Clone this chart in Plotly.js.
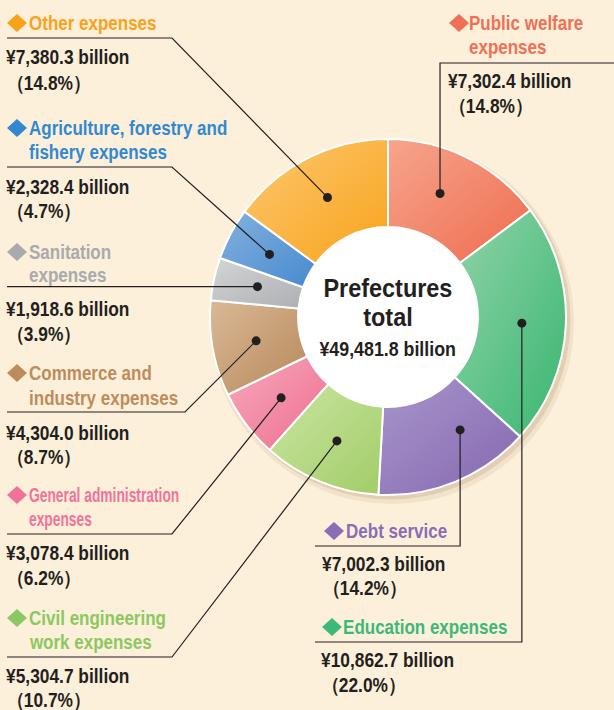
<!DOCTYPE html>
<html>
<head>
<meta charset="utf-8">
<script src="https://cdn.plot.ly/plotly-3.0.1.min.js"></script>
<style>
  html, body { margin: 0; padding: 0; background: #FDF0DB; }
  #chart { width: 614px; height: 710px; }
</style>
</head>
<body>
<div id="chart"></div>
<script>
// ---------------- data ----------------
const categories = [
  "Public welfare expenses", "Education expenses", "Debt service",
  "Civil engineering work expenses", "General administration expenses",
  "Commerce and industry expenses", "Sanitation expenses",
  "Agriculture, forestry and fishery expenses", "Other expenses"
];
const values = [7302.4, 10862.7, 7002.3, 5304.7, 3078.4, 4304.0, 1918.6, 2328.4, 7380.3];
const percents = [14.8, 22.0, 14.2, 10.7, 6.2, 8.7, 3.9, 4.7, 14.8];
const labelLines = [
  ["Public welfare", "expenses"],
  ["Education expenses"],
  ["Debt service"],
  ["Civil engineering", "work expenses"],
  ["General administration", "expenses"],
  ["Commerce and", "industry expenses"],
  ["Sanitation", "expenses"],
  ["Agriculture, forestry and", "fishery expenses"],
  ["Other expenses"]
];
const centerLines = ["Prefectures", "total"];
const totalValue = 49481.8;

// ---------------- styles ----------------
const W = 614, H = 710;
const FONT = "'Liberation Sans', Arial, sans-serif";
const INK = "#231F20";
const sliceColors = ["#F3876A", "#62C28C", "#9580BE", "#B7D987", "#F28CA6", "#C9A079", "#C2C3C5", "#6399D5", "#FBB23F"];
const lightStops  = ["#F6A58D", "#91D3A8", "#A896CB", "#CBE5A4", "#F7AABD", "#DAB996", "#D4D5D7", "#84B1DE", "#FDC872"];
const darkStops   = ["#EF6C4E", "#38B670", "#8567B0", "#A1CD66", "#EE6D8E", "#B6885A", "#AEAFB2", "#478ACF", "#F8A31A"];
const textColors  = ["#F07055", "#3DB878", "#8B6DB6", "#8CC862", "#F2739A", "#BE8C5B", "#A8AAAD", "#3389CF", "#F8A21C"];

// pie geometry (pixels)
const CX = 388, CY = 317, R = 178, HOLE = 0.505;
const DOT_R = 134;

// label layout per slice (pixel positions)
const labelLayout = [
  {dX: 449, cX: 469, cY: [23, 47], vX: 448, vY: [81, 106], line: {kind: "up", y: 63, xEnd: 614}, frac: 0.43},
  {dX: 322, cX: 343, cY: [627], vX: 321, vY: [660, 685], line: {kind: "down", y: 642, xStart: 315}, frac: 0.5},
  {dX: 324, cX: 346, cY: [531], vX: 322, vY: [564, 588], line: {kind: "down", y: 546, xStart: 315}, frac: 0.30},
  {dX: 7, cX: 29, cY: [618, 642], vX: 6, vY: [676, 700], line: {kind: "elbow", y: 657, xStart: 7, xElbow: 172}, frac: 0.5},
  {dX: 7, cX: 29, cY: [495, 519], vX: 6, vY: [553, 578], line: {kind: "elbow", y: 534, xStart: 7, xElbow: 172}, frac: 0.5, sx: 0.69},
  {dX: 7, cX: 29, cY: [373, 398], vX: 6, vY: [433, 457], line: {kind: "elbow", y: 412, xStart: 7, xElbow: 185}, frac: 0.5},
  {dX: 7, cX: 29, cY: [252, 275], vX: 6, vY: [309, 334], line: {kind: "flat", xStart: 7}, frac: 0.55},
  {dX: 7, cX: 29, cY: [128, 152], vX: 6, vY: [187, 211], line: {kind: "elbow", y: 167, xStart: 7, xElbow: 172}, frac: 0.5},
  {dX: 7, cX: 29, cY: [23], vX: 6, vY: [57, 83], line: {kind: "elbow", y: 38, xStart: 7, xElbow: 172}, frac: 0.5}
];

const px = x => x / W;
const py = y => 1 - y / H;

function fmtValue(v) {
  return "¥" + v.toLocaleString("en-US", {minimumFractionDigits: 1, maximumFractionDigits: 1}) + " billion";
}
function fmtPct(p) { return "（" + p.toFixed(1) + "%）"; }

// dot positions derived from the data (slice angles)
const total = values.reduce((a, b) => a + b, 0);
let cum = 0;
const dots = values.map((v, i) => {
  const start = cum / total;
  cum += v;
  const end = cum / total;
  const f = start + (end - start) * labelLayout[i].frac;
  const ang = f * 2 * Math.PI; // clockwise from 12 o'clock
  return {x: CX + DOT_R * Math.sin(ang), y: CY - DOT_R * Math.cos(ang)};
});

const shapes = [];
const annotations = [];
const textScale = [];   // horizontal condensing per annotation

function circle(cx, cy, r, fill, layer) {
  shapes.push({type: "circle", xref: "paper", yref: "paper", layer: layer || "above",
    x0: px(cx - r), x1: px(cx + r), y0: py(cy + r), y1: py(cy - r),
    fillcolor: fill, line: {width: 0}});
}
function path(pts, color, width) {
  const d = pts.map((p, k) => (k ? "L" : "M") + px(p[0]) + "," + py(p[1])).join(" ");
  shapes.push({type: "path", xref: "paper", yref: "paper", layer: "above", path: d,
    line: {color: color, width: width}});
}
function diamond(cx, cy, sxp, syp, color) {
  const d = "M" + px(cx - sxp) + "," + py(cy) + " L" + px(cx) + "," + py(cy - syp) +
            " L" + px(cx + sxp) + "," + py(cy) + " L" + px(cx) + "," + py(cy + syp) + " Z";
  shapes.push({type: "path", xref: "paper", yref: "paper", layer: "above", path: d,
    fillcolor: color, line: {width: 0}});
}
function text(t, x, y, size, color, anchor, sx) {
  annotations.push({text: "<b>" + t + "</b>", xref: "paper", yref: "paper",
    x: px(x), y: py(y), xanchor: anchor || "left", yanchor: "middle", showarrow: false,
    borderpad: 0, borderwidth: 0,
    font: {family: FONT, size: size, color: color}});
  textScale.push({s: sx || 1, anchor: anchor || "left"});
}

// shadow + white hole (below pie)
circle(CX + 4, CY + 5, R + 4, "rgba(140,105,60,0.10)", "below");
circle(CX + 3, CY + 3, R + 1.5, "rgba(140,105,60,0.16)", "below");
circle(CX, CY, R * HOLE + 2, "#FFFFFF", "below");

labelLayout.forEach((L, i) => {
  const d = dots[i];
  const ln = L.line;
  if (ln.kind === "elbow") path([[ln.xStart, ln.y], [ln.xElbow, ln.y], [d.x, d.y]], INK, 1.2);
  else if (ln.kind === "flat") path([[ln.xStart, d.y], [d.x, d.y]], INK, 1.2);
  else if (ln.kind === "up") path([[ln.xEnd, ln.y], [d.x, ln.y], [d.x, d.y]], INK, 1.2);
  else if (ln.kind === "down") path([[ln.xStart, ln.y], [d.x, ln.y], [d.x, d.y]], INK, 1.2);
  circle(d.x, d.y, 4.5, INK, "above");
  diamond(L.dX + 10, L.cY[0], 10, 9, textColors[i]);
  labelLines[i].forEach((t, k) => text(t, L.cX, L.cY[k], 20, textColors[i], "left", L.sx || 0.85));
  text(fmtValue(values[i]), L.vX, L.vY[0], 19.5, INK, "left", 0.89);
  text(fmtPct(percents[i]), L.vX, L.vY[1], 19.5, INK, "left", 0.89);
});

// center labels
text(centerLines[0], CX, CY - 29, 26.5, INK, "center", 0.885);
text(centerLines[1], CX, CY + 0, 26.5, INK, "center", 0.885);
text(fmtValue(totalValue), CX, CY + 32, 20, INK, "center", 0.89);

const trace = {
  type: "pie",
  labels: categories,
  values: values,
  sort: false,
  direction: "clockwise",
  rotation: 0,
  hole: HOLE,
  textinfo: "none",
  hoverinfo: "none",
  marker: {colors: sliceColors, line: {color: "#FFFFFF", width: 2}},
  domain: {x: [px(CX - R), px(CX + R)], y: [py(CY + R), py(CY - R)]}
};

const layout = {
  width: W, height: H,
  margin: {l: 0, r: 0, t: 0, b: 0},
  paper_bgcolor: "#FDF0DB",
  plot_bgcolor: "#FDF0DB",
  showlegend: false,
  shapes: shapes,
  annotations: annotations
};

Plotly.newPlot("chart", [trace], layout, {staticPlot: true}).then(gd => {
  const svg = gd.querySelector("svg.main-svg");
  const NS = "http://www.w3.org/2000/svg";
  // slice gradients
  let defs = svg.querySelector("defs");
  if (!defs) { defs = document.createElementNS(NS, "defs"); svg.insertBefore(defs, svg.firstChild); }
  sliceColors.forEach((c, i) => {
    const g = document.createElementNS(NS, "linearGradient");
    g.setAttribute("id", "sliceGrad" + i);
    g.setAttribute("x1", "0"); g.setAttribute("y1", "0");
    g.setAttribute("x2", "1"); g.setAttribute("y2", "1");
    [[0, lightStops[i]], [1, darkStops[i]]].forEach(([o, col]) => {
      const s = document.createElementNS(NS, "stop");
      s.setAttribute("offset", o);
      s.setAttribute("stop-color", col);
      g.appendChild(s);
    });
    defs.appendChild(g);
  });
  gd.querySelectorAll(".pielayer g.slice").forEach((sl, k) => {
    const idx = (sl.__data__ && typeof sl.__data__.i === "number") ? sl.__data__.i : k;
    const p = sl.querySelector("path.surface");
    if (p) p.style.fill = "url(#sliceGrad" + idx + ")";
  });
  // condensed lettering: horizontal scale about the anchor edge
  gd.querySelectorAll("g.annotation").forEach(ag => {
    const idx = +ag.getAttribute("data-index");
    const cfg = textScale[idx];
    const t = ag.querySelector("text.annotation-text");
    if (!cfg || !t || cfg.s === 1) return;
    const bb = t.getBBox();
    const ax = cfg.anchor === "center" ? bb.x + bb.width / 2 : bb.x;
    const prev = t.getAttribute("transform") || "";
    t.setAttribute("transform", prev + " translate(" + ax + ",0) scale(" + cfg.s + ",1) translate(" + (-ax) + ",0)");
  });
});
</script>
</body>
</html>
